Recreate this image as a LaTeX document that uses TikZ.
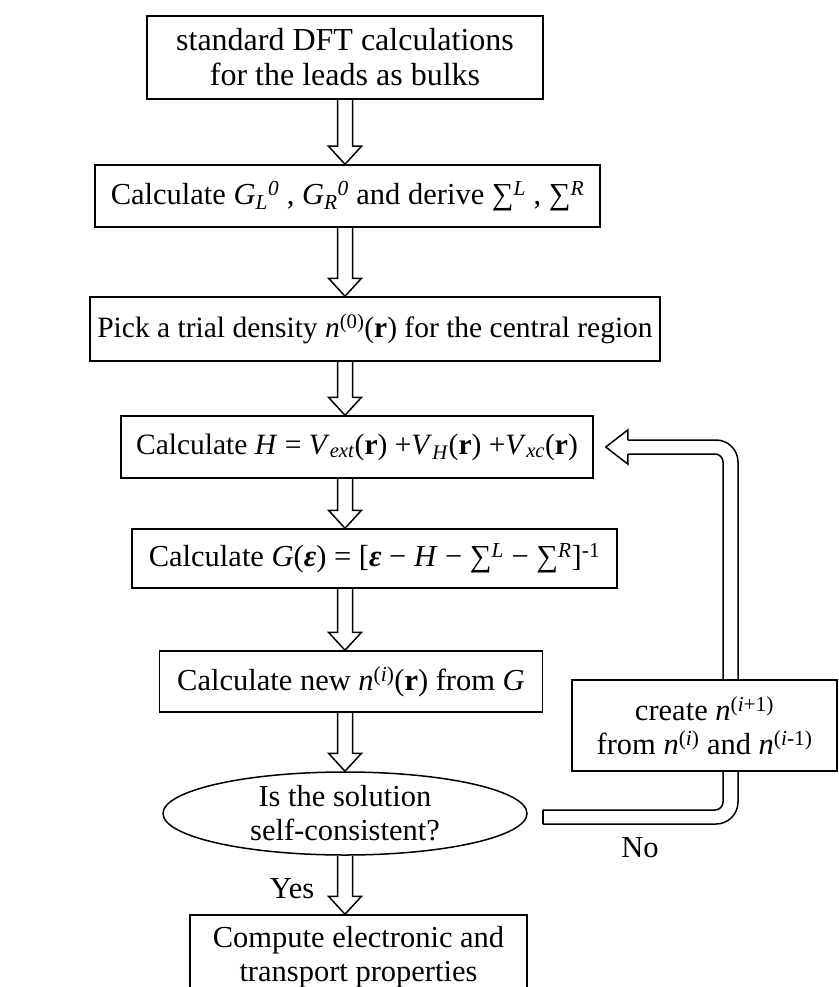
\documentclass[tikz,border=0pt]{standalone}
\usepackage{fontspec}
\setmainfont{Liberation Serif}
\usetikzlibrary{calc,shapes.geometric}
\newcommand{\iv}[1]{\textit{#1}}
\newcommand{\bfr}{\textbf{r}}
\newcommand{\beps}{\textbf{\textit{ε}}}
\newcommand{\hdown}[2]{\draw[hol] let \p1=(#1.south -| ax), \p2=(#2.north -| ax) in
  (\x1-7.5pt,\y1) -- (\x1-7.5pt,\y2+18pt) -- (\x1-16.5pt,\y2+18pt) -- (\x1,\y2)
  -- (\x1+16.5pt,\y2+18pt) -- (\x1+7.5pt,\y2+18pt) -- (\x1+7.5pt,\y1);}
\begin{document}
\begin{tikzpicture}[x=1pt,y=-1pt,
  every node/.style={font=\fontsize{30.5}{34}\selectfont},
  box/.style={draw,line width=1.5pt,fill=white,align=center,inner sep=0pt},
  ellbox/.style={draw,ellipse,line width=1.5pt,fill=white,inner sep=0pt},
  hol/.style={draw,line width=1.5pt,line join=miter}]
\useasboundingbox (0,0) rectangle (838,987);
\coordinate (ax) at (345,0);
\node[box,minimum width=396pt,minimum height=83pt,font=\fontsize{32}{35}\selectfont] (b1) at (345,57.5)
  {standard DFT calculations\\for the leads as bulks};
\node[box,minimum width=505pt,minimum height=62pt] (b2) at (347.5,196)
  {Calculate \iv{G}\textsubscript{\iv{L}}\textsuperscript{\iv{0}} , \iv{G}\textsubscript{\iv{R}}\textsuperscript{\iv{0}} and derive ∑\textsuperscript{\iv{L}} , ∑\textsuperscript{\iv{R}}};
\node[box,minimum width=570pt,minimum height=64pt,font=\fontsize{29.5}{34}\selectfont] (b3) at (375,329)
  {Pick a trial density \iv{n}\textsuperscript{(0)}(\bfr) for the central region};
\node[box,minimum width=472pt,minimum height=62pt,font=\fontsize{29.5}{34}\selectfont] (b4) at (357,447)
  {Calculate \iv{H} = \iv{V}\textsubscript{\iv{ext}}(\bfr) +\iv{V}\textsubscript{\iv{H}}(\bfr) +\iv{V}\textsubscript{\iv{xc}}(\bfr)};
\node[box,minimum width=485pt,minimum height=59pt] (b5) at (374.5,558.5)
  {Calculate \iv{G}(\beps) = [\beps{} − \iv{H} − ∑\textsuperscript{\iv{L}} − ∑\textsuperscript{\iv{R}}]\textsuperscript{-1}};
\node[box,minimum width=383pt,minimum height=61pt] (b6) at (351,681.5)
  {Calculate new \iv{n}\textsuperscript{(\iv{i})}(\bfr) from \iv{G}};
\node[ellbox,minimum width=364pt,minimum height=83pt] (ell) at (345,813.5) {};
\node[align=center,inner sep=0pt] (elltext) at (ell.center) {Is the solution\\self-consistent?};
\node[box,minimum width=337pt,minimum height=85pt] (fin) at (358.5,957.5)
  {Compute electronic and\\transport properties};
% vertical hollow arrows
\hdown{b1}{b2}
\hdown{b2}{b3}
\hdown{b3}{b4}
\hdown{b4}{b5}
\hdown{b5}{b6}
\hdown{b6}{ell}
\hdown{ell}{fin}
% feedback connector from ell to b4
\coordinate (fa) at ($(ell.east)+(15,3.5)$);
\coordinate (fb) at ($(b4.east)+(12,0)$);
\coordinate (fx) at (730.5,0);
\draw[hol,rounded corners=22pt] let \p1=(fa), \p2=(fb), \p3=(fx) in
  (\x2+22pt,\y2+7pt) -- (\x3+7.5pt,\y2+7pt) -- (\x3+7.5pt,\y1-7pt) -- (\x1,\y1-7pt);
\draw[hol,rounded corners=8pt] let \p1=(fa), \p2=(fb), \p3=(fx) in
  (\x2+22pt,\y2-7pt) -- (\x3-7.5pt,\y2-7pt) -- (\x3-7.5pt,\y1+7pt) -- (\x1,\y1+7pt);
\draw[hol] let \p1=(fa) in (\x1,\y1-7pt) -- (\x1,\y1+7pt);
\draw[hol] let \p2=(fb) in
  (\x2+22pt,\y2+7pt) -- (\x2+22pt,\y2+17pt) -- (\x2,\y2) -- (\x2+22pt,\y2-17pt) -- (\x2+22pt,\y2-7pt);
\node[box,minimum width=265pt,minimum height=91pt] (cr) at (704.5,725.5)
  {create \iv{n}\textsuperscript{(\iv{i}+1)}\\from \iv{n}\textsuperscript{(\iv{i})} and \iv{n}\textsuperscript{(\iv{i}-1)}};
\node (yes) at (292,889) {Yes};
\node (no) at (640,848) {No};
\end{tikzpicture}
\end{document}
